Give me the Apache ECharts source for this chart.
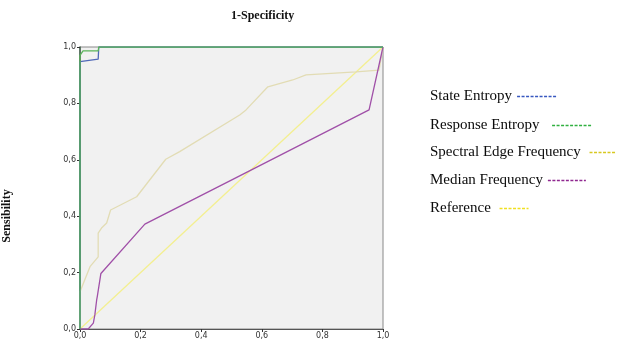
<!DOCTYPE html>
<html><head><meta charset="utf-8">
<script src="https://cdn.jsdelivr.net/npm/echarts@6/dist/echarts.min.js"></script>
<style>html,body{margin:0;padding:0;background:#fff}#c{width:624px;height:344px}</style>
</head><body><div id="c"></div>
<script>
var seriesNames = ['State Entropy','Response Entropy','Spectral Edge Frequency','Median Frequency','Reference'];
var tickValues = [0,0.2,0.4,0.6,0.8,1.0];
var stateEntropy = [[0,0],[0,0.948],[0.06,0.957],[0.062,1],[1,1]];
var responseEntropy = [[0,0],[0,0.97],[0.01,0.986],[0.06,0.986],[0.062,1],[1,1]];
var spectralEdge = [[0,0],[0,0.132],[0.033,0.221],[0.06,0.256],[0.06,0.34],[0.071,0.358],[0.088,0.376],[0.101,0.422],[0.187,0.469],[0.283,0.602],[0.329,0.629],[0.527,0.759],[0.548,0.777],[0.62,0.859],[0.702,0.883],[0.746,0.901],[0.911,0.912],[0.987,0.918],[1,1]];
var medianFreq = [[0,0],[0.027,0],[0.044,0.021],[0.049,0.05],[0.055,0.103],[0.057,0.115],[0.069,0.197],[0.214,0.372],[0.527,0.543],[0.954,0.777],[1,1]];
var referenceLine = [[0,0],[1,1]];

var curveColors = ['#5068b8','#5ab45a','#e2dcb4','#a050a8','#f3ef90'];
var legendColors = ['#3858c0','#30b040','#d8c820','#902890','#f0e020'];
var legendTops = [89,118,145,173,201];
var legendIconWidths = [39,40,26,38,29];
var legendPads = ['','  ',' ','',' '];
var dataSets = [stateEntropy, responseEntropy, spectralEdge, medianFreq, referenceLine];
var drawOrder = [4,2,3,0,1];

var chart = echarts.init(document.getElementById('c'));
var fmt = function(v){ return v.toFixed(1).replace('.',','); };
var series = drawOrder.map(function(i){
  return {
    name: seriesNames[i], type:'line', data: dataSets[i], symbol:'none', silent:true,
    lineStyle:{color:curveColors[i], width:1.3}, itemStyle:{color:legendColors[i]}, z: 2+drawOrder.indexOf(i)
  };
});
var legends = seriesNames.map(function(n,i){
  return {show:true, orient:'horizontal', left:430, top:legendTops[i], itemWidth:legendIconWidths[i], itemHeight:14, align:'right',
    selectedMode:false, padding:0,
    formatter: function(name){ return name + legendPads[i]; },
    textStyle:{fontFamily:'Liberation Serif', fontSize:15, color:'#0a0a0a'},
    data:[{name:n, itemStyle:{color:'rgba(0,0,0,0)', opacity:0}, lineStyle:{color:legendColors[i], type:[3,1.5], width:1.3, opacity:1}}]};
});
chart.setOption({
  animation:false,
  grid:{left:80, top:47, right:241, bottom:15, show:true, backgroundColor:'#f1f1f1', borderColor:'#888', borderWidth:1},
  xAxis:{type:'value', min:0, max:1, interval:0.2,
    axisLine:{show:true, lineStyle:{color:'#555', width:1}},
    axisTick:{show:true, length:3, lineStyle:{color:'#333'}},
    axisLabel:{fontSize:8, color:'#333', margin:3, formatter:fmt, fontFamily:'DejaVu Sans'},
    splitLine:{show:false}},
  yAxis:{type:'value', min:0, max:1, interval:0.2,
    axisLine:{show:true, lineStyle:{color:'#3e5e48', width:1.5}},
    axisTick:{show:true, length:3, lineStyle:{color:'#333'}},
    axisLabel:{fontSize:8, color:'#333', margin:4, formatter:fmt, fontFamily:'DejaVu Sans'},
    splitLine:{show:false}},
  legend: legends,
  graphic:[
    {type:'text', left:231, top:10, style:{text:'1-Specificity', font:'bold 12px "Liberation Serif"', fill:'#111', textAlign:'center'}},
    {type:'text', x:7, y:216, rotation:Math.PI/2, style:{text:'Sensibility', font:'bold 12px "Liberation Serif"', fill:'#111', textAlign:'center', textVerticalAlign:'middle'}}
  ],
  series: series
});
</script></body></html>
